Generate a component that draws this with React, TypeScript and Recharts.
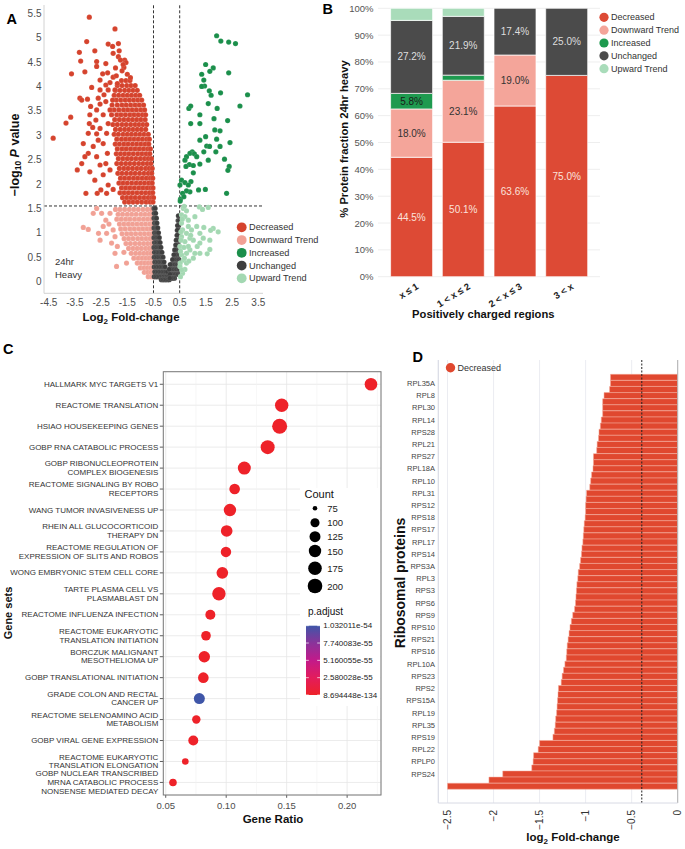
import React from 'react';
import {
  ScatterChart, Scatter, XAxis, YAxis, ReferenceLine,
  BarChart, Bar, CartesianGrid, LabelList,
} from 'recharts';

const FONT = '"Liberation Sans", Arial, Helvetica, sans-serif';

// ---------------- Panel A : volcano plot ----------------
const A_X_TICKS = [-4.5, -3.5, -2.5, -1.5, -0.5, 0.5, 1.5, 2.5, 3.5];
const A_Y_TICKS = [0, 0.5, 1, 1.5, 2, 2.5, 3, 3.5, 4, 4.5, 5, 5.5];
const LFC_CUT = 0.5;
const P_CUT = 1.55;

const decreasedOuter: number[][] = [
  [-2.95, 5.42], [-1.97, 5.18], [-3.05, 4.92], [-2.23, 4.87], [-1.84, 4.88], [-2.06, 4.82], [-2.74, 4.73],
  [-3.33, 4.7], [-1.81, 4.73], [-2.04, 4.68], [-1.84, 4.61], [-1.6, 4.54], [-3.28, 4.52], [-2.67, 4.51],
  [-1.76, 4.54], [-2.32, 4.47], [-1.55, 4.49], [-2.67, 4.41], [-1.63, 4.39], [-3.12, 4.3], [-3.63, 4.26],
  [-2.44, 4.26], [-2.25, 4.28], [-2.04, 4.19], [-2.54, 4.13], [-2.16, 4.08], [-2.32, 4.03], [-2.86, 3.98],
  [-2.54, 3.93], [-2.23, 3.93], [-3.31, 3.76], [-3.24, 3.72], [-3.02, 3.74], [-2.61, 3.76], [-2.39, 3.83],
  [-2.9, 3.59], [-2.67, 3.52], [-2.54, 3.64], [-2.32, 3.69], [-3.66, 3.37], [-2.93, 3.42], [-2.7, 3.31],
  [-2.42, 3.42], [-3.84, 3.25], [-2.95, 3.24], [-2.82, 3.16], [-2.54, 3.14], [-2.99, 3.04], [-2.67, 3.03],
  [-4.33, 2.94], [-3.18, 2.83], [-2.8, 2.77], [-2.61, 2.9], [-2.42, 2.83], [-2.99, 2.63], [-2.67, 2.56],
  [-3.12, 2.56], [-3.24, 2.42], [-2.54, 2.39], [-2.93, 2.25], [-3.41, 2.29], [-2.74, 2.08], [-2.42, 2.19],
  [-2.16, 2.29], [-3.08, 1.81], [-2.65, 1.81], [-2.51, 1.88], [-2.29, 1.81], [-2.04, 1.89], [-2.23, 1.98],
  [-2.32, 2.42], [-2.26, 2.63], [-2.29, 3.04], [-2.23, 3.24], [-2.16, 3.52], [-2.06, 3.72], [-1.97, 3.93],
  [-1.88, 4.06], [-1.7, 4.32], [-1.5, 4.25], [-1.92, 4.22], [-1.38, 4.18], [-1.66, 4.45], [-1.95, 4.38],
];

// rows of the dense core: [ -log10 p, [log2 FC values] ]
const decreasedCoreRows: [number, number[]][] = [
  [4.12, [-1.72, -1.55, -1.4]],
  [4.02, [-1.88, -1.7, -1.52, -1.36, -1.2]],
  [3.92, [-1.95, -1.78, -1.6, -1.44, -1.28, -1.12]],
  [3.82, [-2.0, -1.83, -1.66, -1.5, -1.34, -1.18, -1.03]],
  [3.72, [-1.92, -1.75, -1.58, -1.42, -1.26, -1.1, -0.95]],
  [3.62, [-2.08, -1.88, -1.7, -1.54, -1.37, -1.2, -1.04, -0.88]],
  [3.52, [-2.0, -1.82, -1.64, -1.48, -1.31, -1.15, -0.98, -0.84]],
  [3.42, [-2.1, -1.9, -1.74, -1.57, -1.4, -1.24, -1.08, -0.92, -0.8]],
  [3.32, [-1.98, -1.8, -1.63, -1.46, -1.3, -1.14, -0.98, -0.82]],
  [3.22, [-2.05, -1.88, -1.7, -1.54, -1.37, -1.2, -1.05, -0.9, -0.76]],
  [3.12, [-1.95, -1.77, -1.6, -1.44, -1.28, -1.12, -0.96, -0.8]],
  [3.02, [-2.0, -1.84, -1.66, -1.5, -1.34, -1.18, -1.02, -0.86, -0.7]],
  [2.92, [-1.9, -1.72, -1.56, -1.4, -1.24, -1.08, -0.92, -0.76, -0.66]],
  [2.82, [-1.96, -1.8, -1.63, -1.47, -1.3, -1.14, -0.98, -0.82, -0.68]],
  [2.72, [-1.88, -1.7, -1.54, -1.37, -1.2, -1.04, -0.88, -0.72, -0.62]],
  [2.62, [-1.92, -1.76, -1.6, -1.44, -1.27, -1.1, -0.94, -0.78, -0.64]],
  [2.52, [-1.84, -1.67, -1.5, -1.34, -1.17, -1.0, -0.84, -0.7, -0.58]],
  [2.42, [-1.9, -1.73, -1.56, -1.4, -1.23, -1.06, -0.9, -0.74, -0.6]],
  [2.32, [-1.8, -1.63, -1.47, -1.3, -1.13, -0.97, -0.8, -0.66, -0.55]],
  [2.22, [-1.86, -1.7, -1.53, -1.36, -1.2, -1.03, -0.86, -0.7, -0.57]],
  [2.12, [-1.76, -1.6, -1.43, -1.26, -1.1, -0.93, -0.77, -0.62, -0.53]],
  [2.02, [-1.82, -1.66, -1.5, -1.33, -1.16, -1.0, -0.84, -0.68, -0.55]],
  [1.92, [-1.72, -1.56, -1.4, -1.23, -1.06, -0.9, -0.74, -0.6, -0.52]],
  [1.82, [-1.78, -1.62, -1.46, -1.3, -1.13, -0.96, -0.8, -0.65, -0.53]],
  [1.72, [-1.68, -1.52, -1.36, -1.2, -1.03, -0.86, -0.7, -0.57, -0.5]],
  [1.63, [-1.6, -1.44, -1.28, -1.12, -0.95, -0.78, -0.63, -0.52]],
];

const downwardOuter: number[][] = [
  [-3.18, 1.11], [-2.99, 1.07], [-2.6, 0.99], [-2.54, 0.85], [-2.67, 1.5], [-2.8, 1.4], [-2.48, 1.4],
  [-2.16, 1.4], [-2.32, 1.26], [-2.04, 1.06], [-2.29, 0.99], [-2.1, 0.79], [-1.97, 0.58], [-1.63, 0.6],
  [-1.91, 0.31], [-1.53, 0.38], [-1.88, 0.72], [-1.97, 0.92], [-2.42, 1.13], [-2.2, 1.18],
];

const downwardCoreRows: [number, number[]][] = [
  [1.48, [-1.95, -1.78, -1.6, -1.42, -1.25, -1.08, -0.9, -0.73, -0.58]],
  [1.38, [-1.85, -1.68, -1.5, -1.33, -1.16, -0.98, -0.82, -0.66, -0.54]],
  [1.28, [-1.9, -1.73, -1.56, -1.4, -1.22, -1.05, -0.88, -0.72, -0.57]],
  [1.18, [-1.8, -1.63, -1.46, -1.3, -1.13, -0.96, -0.8, -0.64, -0.53]],
  [1.08, [-1.75, -1.58, -1.4, -1.23, -1.06, -0.9, -0.74, -0.6]],
  [0.98, [-1.7, -1.52, -1.35, -1.18, -1.0, -0.84, -0.68, -0.55]],
  [0.88, [-1.62, -1.45, -1.28, -1.1, -0.94, -0.78, -0.63, -0.52]],
  [0.78, [-1.55, -1.38, -1.2, -1.03, -0.87, -0.72, -0.58]],
  [0.68, [-1.45, -1.28, -1.12, -0.96, -0.8, -0.66, -0.54]],
  [0.58, [-1.35, -1.18, -1.02, -0.87, -0.73, -0.6]],
  [0.48, [-1.25, -1.08, -0.93, -0.79, -0.66, -0.54]],
  [0.38, [-1.12, -0.97, -0.83, -0.7, -0.58]],
  [0.28, [-1.0, -0.86, -0.73, -0.61, -0.52]],
  [0.19, [-0.85, -0.72, -0.6, -0.51]],
  [0.1, [-0.7, -0.58, -0.5]],
];

const unchangedRows: [number, number[]][] = [
  [1.5, [-0.48, -0.44]],
  [1.4, [-0.47, -0.42]],
  [1.3, [-0.48, -0.43, -0.39]],
  [1.2, [-0.46, -0.41, -0.37]],
  [1.1, [-0.48, -0.43, -0.38, -0.34]],
  [1.0, [-0.46, -0.41, -0.36, -0.31]],
  [0.9, [-0.48, -0.43, -0.38, -0.33, -0.28]],
  [0.8, [-0.46, -0.41, -0.36, -0.3, -0.25]],
  [0.7, [-0.48, -0.43, -0.38, -0.32, -0.27, -0.22]],
  [0.6, [-0.46, -0.4, -0.34, -0.29, -0.23, -0.18]],
  [0.5, [-0.47, -0.42, -0.36, -0.3, -0.24, -0.19, -0.14]],
  [0.4, [-0.45, -0.39, -0.33, -0.27, -0.21, -0.15, -0.1]],
  [0.3, [-0.47, -0.41, -0.35, -0.29, -0.23, -0.17, -0.11, -0.06]],
  [0.2, [-0.45, -0.39, -0.33, -0.27, -0.21, -0.15, -0.09, -0.03, 0.03]],
  [0.1, [-0.47, -0.41, -0.35, -0.29, -0.23, -0.17, -0.11, -0.05, 0.01, 0.07]],
  [0.04, [-0.2, -0.14, -0.08, -0.02, 0.04, 0.1]],
  [1.35, [0.45]],
  [1.25, [0.44, 0.48]],
  [1.15, [0.46, 0.42]],
  [1.05, [0.47, 0.41]],
  [0.95, [0.45, 0.4]],
  [0.85, [0.47, 0.42, 0.37]],
  [0.75, [0.45, 0.4, 0.35]],
  [0.65, [0.47, 0.42, 0.36, 0.31]],
  [0.55, [0.45, 0.4, 0.34, 0.28]],
  [0.45, [0.47, 0.41, 0.35, 0.29, 0.23]],
  [0.35, [0.44, 0.38, 0.32, 0.26, 0.2, 0.14]],
  [0.25, [0.46, 0.4, 0.34, 0.28, 0.22, 0.16, 0.1]],
  [0.15, [0.43, 0.37, 0.31, 0.25, 0.19, 0.13]],
  [0.07, [0.3, 0.24, 0.18, 0.12]],
];

const increasedPoints: number[][] = [
  [1.91, 5.04], [2.07, 4.93], [2.37, 4.91], [2.63, 4.88], [1.49, 4.45], [1.78, 4.38], [1.65, 4.31],
  [1.34, 4.25], [2.37, 4.28], [1.42, 4.13], [1.45, 4.01], [1.34, 4.0], [1.63, 3.91], [1.7, 3.82],
  [2.06, 3.87], [3.09, 3.83], [1.59, 3.65], [2.8, 3.6], [0.85, 3.55], [0.92, 3.6], [1.93, 3.55],
  [1.27, 3.42], [1.81, 3.34], [2.33, 3.3], [0.92, 3.24], [1.27, 3.24], [2.04, 3.09], [1.49, 2.97],
  [1.91, 2.92], [2.42, 2.85], [1.53, 2.78], [1.64, 2.77], [1.42, 2.66], [0.98, 2.66], [0.89, 2.63],
  [1.06, 2.62], [0.76, 2.56], [0.7, 2.49], [2.21, 2.51], [1.59, 2.49], [0.87, 2.4], [1.02, 2.38],
  [1.27, 2.41], [0.74, 2.36], [2.39, 2.36], [2.34, 2.28], [1.02, 2.23], [0.57, 2.08], [0.7, 2.03],
  [0.93, 2.05], [0.83, 1.98], [0.51, 1.98], [1.48, 1.89], [1.22, 1.88], [0.89, 1.84], [0.76, 1.86],
  [0.61, 1.81], [2.29, 1.81], [0.53, 1.69], [0.52, 1.65], [0.66, 1.74], [1.15, 2.56], [1.88, 2.66],
  [2.04, 2.77], [1.27, 2.9], [1.84, 3.11],
];

const upwardPoints: number[][] = [
  [0.64, 1.5], [0.76, 1.45], [1.25, 1.53], [1.59, 1.52], [0.57, 1.37], [0.7, 1.33], [1.78, 1.09],
  [1.68, 1.05], [1.97, 1.02], [1.42, 1.11], [1.27, 0.99], [0.95, 1.06], [0.76, 0.99], [0.57, 0.92],
  [1.02, 0.85], [1.17, 0.72], [1.27, 0.79], [1.65, 0.66], [1.55, 0.57], [0.57, 0.55], [0.64, 0.44],
  [0.52, 0.38], [0.76, 0.58], [0.89, 0.65], [0.51, 0.31], [0.7, 0.25], [1.08, 0.58], [0.61, 0.17],
  [0.53, 0.1], [0.83, 1.13], [1.15, 1.13], [0.61, 1.06], [0.89, 0.89], [0.7, 0.82], [1.4, 0.89],
  [0.51, 0.72], [0.83, 0.72], [1.02, 0.48], [0.76, 0.38], [1.27, 0.58], [0.57, 1.2], [0.83, 1.26],
  [1.08, 1.33], [0.67, 1.54], [1.37, 1.48], [1.65, 0.85], [0.55, 0.85], [0.6, 1.28], [0.53, 0.62],
  [0.66, 0.7], [0.92, 0.95], [0.58, 0.24], [0.68, 0.48], [0.85, 0.42], [0.55, 1.02],
];

const A_COLORS = {
  Decreased: '#d5432d',
  'Downward Trend': '#f1a195',
  Increased: '#1b8f4b',
  Unchanged: '#3e3e3e',
  'Upward Trend': '#a3d8b2',
};

const pairs = (arr: number[][]) => arr.map(([x, y]) => ({ x, y }));
const rows = (arr: [number, number[]][]) => arr.flatMap(([y, xs]) => xs.map((x) => ({ x, y })));

// ---------------- Panel B : stacked bars ----------------
const chargeCategories = ['x ≤ 1', '1 < x ≤ 2', '2 < x ≤ 3', '3 < x'];
const decreasedPct = [44.5, 50.1, 63.6, 75.0];
const downwardPct = [18.0, 23.1, 19.0, 0];
const increasedPct = [5.8, 1.9, 0, 0];
const unchangedPct = [27.2, 21.9, 17.4, 25.0];
const upwardPct = [4.5, 3.0, 0, 0];
const B_TICKS = [0, 10, 20, 30, 40, 50, 60, 70, 80, 90, 100];
const B_COLORS = {
  Decreased: '#dd4a35',
  'Downward Trend': '#f4a59a',
  Increased: '#1e9a4f',
  Unchanged: '#4b4b4b',
  'Upward Trend': '#a9dcba',
};

// ---------------- Panel C : enrichment dot plot ----------------
const geneSetLabels: string[][] = [
  ['HALLMARK MYC TARGETS V1'],
  ['REACTOME TRANSLATION'],
  ['HSIAO HOUSEKEEPING GENES'],
  ['GOBP RNA CATABOLIC PROCESS'],
  ['GOBP RIBONUCLEOPROTEIN', 'COMPLEX BIOGENESIS'],
  ['REACTOME SIGNALING BY ROBO', 'RECEPTORS'],
  ['WANG TUMOR INVASIVENESS UP'],
  ['RHEIN ALL GLUCOCORTICOID', 'THERAPY DN'],
  ['REACTOME REGULATION OF', 'EXPRESSION OF SLITS AND ROBOS'],
  ['WONG EMBRYONIC STEM CELL CORE'],
  ['TARTE PLASMA CELL VS', 'PLASMABLAST DN'],
  ['REACTOME INFLUENZA INFECTION'],
  ['REACTOME EUKARYOTIC', 'TRANSLATION INITIATION'],
  ['BORCZUK MALIGNANT', 'MESOTHELIOMA UP'],
  ['GOBP TRANSLATIONAL INITIATION'],
  ['GRADE COLON AND RECTAL', 'CANCER UP'],
  ['REACTOME SELENOAMINO ACID', 'METABOLISM'],
  ['GOBP VIRAL GENE EXPRESSION'],
  ['REACTOME EUKARYOTIC', 'TRANSLATION ELONGATION'],
  ['GOBP NUCLEAR TRANSCRIBED', 'MRNA CATABOLIC PROCESS', 'NONSENSE MEDIATED DECAY'],
];
const geneRatios = [0.2197, 0.1459, 0.1442, 0.1343, 0.115, 0.107, 0.1031, 0.1004, 0.0998, 0.0968,
  0.094, 0.0869, 0.0833, 0.0819, 0.0811, 0.0778, 0.0753, 0.0728, 0.0662, 0.056];
const geneCounts = [154, 171, 209, 184, 162, 120, 150, 136, 117, 136, 171, 111, 106, 132, 120, 126, 93, 111, 80, 86];
const geneP = [8.694448e-134, 1.2e-110, 3.5e-105, 2.1e-98, 4.4e-80, 6.0e-85, 1.5e-70, 2.2e-68, 3.1e-80,
  1.1e-66, 2.6e-64, 4.5e-72, 7.7e-66, 3.0e-60, 1.8e-62, 1.032011e-54, 5.2e-63, 2.4e-58, 6.6e-61, 9.1e-60];
const C_X_TICKS = [0.05, 0.1, 0.15, 0.2];
const C_X_MINOR = [0.075, 0.125, 0.175, 0.225];
const COUNT_BREAKS = [75, 100, 125, 150, 175, 200];
const P_BREAK_LABELS = ['1.032011e-54', '7.740083e-55', '5.160055e-55', '2.580028e-55', '8.694448e-134'];
const P_MIN = 8.694448e-134;
const P_MAX = 1.032011e-54;
const P_STOPS: [number, string][] = [
  [0, '#ee2229'], [0.25, '#e31c5c'], [0.5, '#c21a8a'], [0.75, '#8a339a'], [1, '#3f56a8'],
];

// ---------------- Panel D : ribosomal proteins ----------------
const riboLabels = [
  '', 'RPL35A', '', 'RPL8', '', 'RPL30', '', 'RPL14', '', 'RPS28', '', 'RPL21', '', 'RPS27', '', 'RPL18A',
  '', 'RPL10', '', 'RPL31', '', 'RPS12', '', 'RPS18', '', 'RPS17', '', 'RPL17', '', 'RPS14', '', 'RPS3A',
  '', 'RPL3', '', 'RPS3', '', 'RPS6', '', 'RPS9', '', 'RPS10', '', 'RPS21', '', 'RPS16', '', 'RPL10A',
  '', 'RPS23', '', 'RPS2', '', 'RPS15A', '', 'RPL19', '', 'RPL35', '', 'RPS19', '', 'RPL22', '', 'RPLP0',
  '', 'RPS24', '', '',
];
const riboLog2FC = [
  -0.73, -0.73, -0.74, -0.8, -0.815, -0.815, -0.815, -0.83, -0.84, -0.855,
  -0.86, -0.875, -0.88, -0.915, -0.915, -0.92, -0.935, -0.945, -0.955, -0.99,
  -0.995, -1.0, -1.0, -1.005, -1.015, -1.02, -1.025, -1.03, -1.04, -1.045,
  -1.055, -1.065, -1.08, -1.085, -1.095, -1.1, -1.105, -1.11, -1.12, -1.14,
  -1.155, -1.17, -1.18, -1.19, -1.2, -1.205, -1.21, -1.225, -1.24, -1.255,
  -1.265, -1.295, -1.3, -1.305, -1.31, -1.315, -1.325, -1.33, -1.34, -1.355,
  -1.5, -1.515, -1.565, -1.57, -1.585, -1.9, -2.05, -2.5,
];
const D_X_TICKS = [-2.5, -2, -1.5, -1, -0.5, 0];
const D_THRESHOLD = -0.39;
const D_COLOR = '#e0482f';

// ---------------- helpers ----------------
function hexToRgb(h: string) {
  const n = parseInt(h.slice(1), 16);
  return [(n >> 16) & 255, (n >> 8) & 255, n & 255];
}
function padjColor(p: number) {
  const t = Math.max(0, Math.min(1, (p - P_MIN) / (P_MAX - P_MIN)));
  for (let i = 1; i < P_STOPS.length; i++) {
    const [t1, c1] = P_STOPS[i];
    const [t0, c0] = P_STOPS[i - 1];
    if (t <= t1) {
      const f = (t - t0) / (t1 - t0);
      const a = hexToRgb(c0);
      const b = hexToRgb(c1);
      const m = a.map((v, k) => Math.round(v + (b[k] - v) * f));
      return `rgb(${m[0]},${m[1]},${m[2]})`;
    }
  }
  return P_STOPS[P_STOPS.length - 1][1];
}
function countRadius(c: number) {
  return 2.3 + 5.6 * Math.sqrt(Math.max(0, c - 75) / 155);
}
const volcanoDot = (fill: string) => (p: any) => (
  <circle cx={p.cx} cy={p.cy} r={2.6} fill={fill} stroke="#ffffff" strokeOpacity={0.25} strokeWidth={0.45} />
);

// ---------------- tick renderers ----------------
const AXTick = (p: any) => (
  <text x={p.x} y={302} textAnchor="middle" dominantBaseline="central" fontSize={10} fill="#4d4d4d" fontFamily={FONT}>
    {String(p.payload.value)}
  </text>
);
const AYTick = (p: any) => (
  <text x={41.5} y={p.y} textAnchor="end" dominantBaseline="central" fontSize={10} fill="#4d4d4d" fontFamily={FONT}>
    {String(p.payload.value)}
  </text>
);
const BYTick = (p: any) => (
  <text x={73.5} y={p.y} textAnchor="end" dominantBaseline="central" fontSize={9.5} fill="#555" fontFamily={FONT}>
    {`${p.payload.value}%`}
  </text>
);
const BXTick = (p: any) => {
  const x = p.x + 4;
  const y = 282;
  return (
    <text x={x} y={y} transform={`rotate(-32 ${x} ${y})`} textAnchor="end" dominantBaseline="hanging"
      fontSize={9.5} fontWeight="bold" fill="#222" fontFamily={FONT}>
      {p.payload.value}
    </text>
  );
};
const CYTick = (p: any) => {
  const idx = 19 - p.payload.value;
  const lines = geneSetLabels[idx] || [];
  const lh = 8.6;
  const y0 = p.y - ((lines.length - 1) * lh) / 2;
  return (
    <g>
      <line x1={159.8} x2={163.3} y1={p.y} y2={p.y} stroke="#333" strokeWidth={0.8} />
      {lines.map((t, k) => (
        <text key={k} x={158.3} y={y0 + k * lh} textAnchor="end" dominantBaseline="central" fontSize={8}
          fill="#333" fontFamily={FONT}>{t}</text>
      ))}
    </g>
  );
};
const CXTick = (p: any) => (
  <g>
    <line x1={p.x} x2={p.x} y1={455} y2={457.8} stroke="#333" strokeWidth={0.8} />
    <text x={p.x} y={465} textAnchor="middle" dominantBaseline="central" fontSize={9.5} fill="#4d4d4d" fontFamily={FONT}>
      {Number(p.payload.value).toFixed(2)}
    </text>
  </g>
);
const DYTick = (p: any) => {
  const idx = Number(String(p.payload.value).slice(1));
  return (
    <text x={35} y={p.y} textAnchor="end" dominantBaseline="central" fontSize={7.5} fill="#444" fontFamily={FONT}>
      {riboLabels[idx]}
    </text>
  );
};
const DXTick = (p: any) => {
  const v = Number(p.payload.value);
  const s = v < 0 ? `\u2212${Math.abs(v)}` : '0';
  return (
    <text x={p.x} y={470} transform={`rotate(-90 ${p.x} 470)`} textAnchor="end" dominantBaseline="central"
      fontSize={10} fill="#333" fontFamily={FONT}>{s}</text>
  );
};

const Bubble = (p: any) => (
  <circle cx={p.cx} cy={p.cy} r={countRadius(p.payload.count)} fill={padjColor(p.payload.p)} />
);

const pctLabel = (v: any) => (Number(v) >= 5 ? `${Number(v).toFixed(1)}%` : '');

export default function App() {
  const aDecreased = [...rows(decreasedCoreRows), ...pairs(decreasedOuter)];
  const aDownward = [...rows(downwardCoreRows), ...pairs(downwardOuter)];
  const aUnchanged = rows(unchangedRows);
  const aIncreased = pairs(increasedPoints);
  const aUpward = pairs(upwardPoints);

  const bData = chargeCategories.map((c, i) => ({
    cat: c,
    Decreased: decreasedPct[i],
    Downward: downwardPct[i],
    Increased: increasedPct[i],
    Unchanged: unchangedPct[i],
    Upward: upwardPct[i],
  }));

  const cData = geneSetLabels.map((_, i) => ({
    x: geneRatios[i], y: 19 - i, count: geneCounts[i], p: geneP[i],
  }));
  const cYTicks = geneSetLabels.map((_, i) => i);

  const dData = riboLog2FC.map((v, i) => ({ id: `r${i}`, value: v }));

  const legendA = Object.entries(A_COLORS);
  const legendB = Object.entries(B_COLORS);

  return (
    <div style={{ position: 'absolute', left: 0, top: 0, width: 685, height: 849, background: '#fff', overflow: 'hidden', fontFamily: FONT }}>
      {/* Panel A */}
      <div style={{ position: 'absolute', left: 0, top: 0 }}>
        <ScatterChart width={270} height={320} margin={{ top: 5, right: 7, bottom: 0, left: 0 }}>
          <XAxis type="number" dataKey="x" domain={[-4.68, 3.68]} ticks={A_X_TICKS} interval={0}
            axisLine={{ stroke: '#d2d2d2' }} tickLine={false} height={26.7} tick={AXTick} allowDataOverflow />
          <YAxis type="number" dataKey="y" domain={[-0.24, 5.67]} ticks={A_Y_TICKS} interval={0}
            axisLine={{ stroke: '#d2d2d2' }} tickLine={false} width={44} tick={AYTick} allowDataOverflow />
          <Scatter data={aDownward} shape={volcanoDot(A_COLORS['Downward Trend'])} isAnimationActive={false} />
          <Scatter data={aDecreased} shape={volcanoDot(A_COLORS.Decreased)} isAnimationActive={false} />
          <Scatter data={aUnchanged} shape={volcanoDot(A_COLORS.Unchanged)} isAnimationActive={false} />
          <Scatter data={aUpward} shape={volcanoDot(A_COLORS['Upward Trend'])} isAnimationActive={false} />
          <Scatter data={aIncreased} shape={volcanoDot(A_COLORS.Increased)} isAnimationActive={false} />
          <ReferenceLine x={-LFC_CUT} stroke="#333" strokeDasharray="3 2" strokeWidth={1} />
          <ReferenceLine x={LFC_CUT} stroke="#333" strokeDasharray="3 2" strokeWidth={1} />
          <ReferenceLine y={P_CUT} stroke="#333" strokeDasharray="3 2" strokeWidth={1} />
        </ScatterChart>
      </div>

      {/* Panel B */}
      <div style={{ position: 'absolute', left: 300, top: 0 }}>
        <BarChart width={310} height={320} data={bData} margin={{ top: 8.3, right: 10, bottom: 0, left: 0 }}>
          <CartesianGrid vertical={false} stroke="#eeeeee" />
          <XAxis dataKey="cat" type="category" padding={{ left: 7.6, right: 7.6 }} axisLine={false} tickLine={false}
            height={43.3} interval={0} tick={BXTick} />
          <YAxis type="number" domain={[0, 100]} ticks={B_TICKS} interval={0} width={78} axisLine={false}
            tickLine={false} tick={BYTick} />
          <Bar dataKey="Decreased" stackId="s" fill={B_COLORS.Decreased} stroke="#fff" strokeWidth={0.7} barSize={42} isAnimationActive={false}>
            <LabelList dataKey="Decreased" position="center" formatter={pctLabel} fill="#fbe2dc" fontSize={10} fontFamily={FONT} />
          </Bar>
          <Bar dataKey="Downward" stackId="s" fill={B_COLORS['Downward Trend']} stroke="#fff" strokeWidth={0.7} barSize={42} isAnimationActive={false}>
            <LabelList dataKey="Downward" position="center" formatter={pctLabel} fill="#333" fontSize={10} fontFamily={FONT} />
          </Bar>
          <Bar dataKey="Increased" stackId="s" fill={B_COLORS.Increased} stroke="#fff" strokeWidth={0.7} barSize={42} isAnimationActive={false}>
            <LabelList dataKey="Increased" position="center" formatter={pctLabel} fill="#1a1a1a" fontSize={10} fontFamily={FONT} />
          </Bar>
          <Bar dataKey="Unchanged" stackId="s" fill={B_COLORS.Unchanged} stroke="#fff" strokeWidth={0.7} barSize={42} isAnimationActive={false}>
            <LabelList dataKey="Unchanged" position="center" formatter={pctLabel} fill="#dedede" fontSize={10} fontFamily={FONT} />
          </Bar>
          <Bar dataKey="Upward" stackId="s" fill={B_COLORS['Upward Trend']} stroke="#fff" strokeWidth={0.7} barSize={42} isAnimationActive={false}>
            <LabelList dataKey="Upward" position="center" formatter={pctLabel} fill="#333" fontSize={10} fontFamily={FONT} />
          </Bar>
        </BarChart>
      </div>

      {/* Panel C */}
      <div style={{ position: 'absolute', left: 0, top: 340 }}>
        <ScatterChart width={400} height={500} margin={{ top: 31.7, right: 19, bottom: 0, left: 0 }}>
          <CartesianGrid stroke="#e6e6e6" strokeWidth={0.8} />
          {C_X_MINOR.map((v) => (
            <ReferenceLine key={v} x={v} stroke="#f2f2f2" strokeWidth={0.6} />
          ))}
          <XAxis type="number" dataKey="x" domain={[0.048, 0.228]} ticks={C_X_TICKS} interval={0}
            axisLine={false} tickLine={false} height={45} tick={CXTick} allowDataOverflow />
          <YAxis type="number" dataKey="y" domain={[-0.6, 19.6]} ticks={cYTicks} interval={0}
            axisLine={false} tickLine={false} width={163.3} tick={CYTick} allowDataOverflow />
          <Scatter data={cData} shape={Bubble} isAnimationActive={false} />
        </ScatterChart>
      </div>

      {/* Panel D */}
      <div style={{ position: 'absolute', left: 400, top: 340 }}>
        <BarChart width={285} height={509} data={dData} layout="vertical" barCategoryGap={0}
          margin={{ top: 20, right: 7.3, bottom: 0, left: 0 }}>
          <CartesianGrid horizontal={false} stroke="#e6e7ee" strokeWidth={0.8} />
          <XAxis type="number" domain={[-2.6, 0]} ticks={D_X_TICKS} interval={0} height={46}
            axisLine={{ stroke: '#d8dae4' }} tickLine={false} tick={DXTick} allowDataOverflow />
          <YAxis type="category" dataKey="id" width={38.3} interval={0} padding={{ top: 14.3, bottom: 13.7 }}
            axisLine={{ stroke: '#d8dae4' }} tickLine={false} tick={DYTick} />
          <Bar dataKey="value" fill={D_COLOR} stroke="#f4ab9b" strokeWidth={0.5} isAnimationActive={false} />
          <ReferenceLine x={0} stroke="#b0b0b0" strokeWidth={1} />
          <ReferenceLine x={D_THRESHOLD} stroke="#222" strokeDasharray="2 1.5" strokeWidth={1} />
        </BarChart>
      </div>

      {/* annotations */}
      <svg width={685} height={849} style={{ position: 'absolute', left: 0, top: 0, pointerEvents: 'none' }} fontFamily={FONT}>
        <defs>
          <linearGradient id="padjGrad" x1="0" y1="1" x2="0" y2="0">
            {P_STOPS.map(([t, c]) => (
              <stop key={t} offset={t} stopColor={c} />
            ))}
          </linearGradient>
        </defs>

        {/* panel letters */}
        <text x={6.5} y={24} fontSize={14.5} fontWeight="bold" fill="#000">A</text>
        <text x={322.5} y={13.5} fontSize={14.5} fontWeight="bold" fill="#000">B</text>
        <text x={3} y={354} fontSize={14.5} fontWeight="bold" fill="#000">C</text>
        <text x={412.5} y={362} fontSize={14.5} fontWeight="bold" fill="#000">D</text>

        {/* Panel A titles */}
        <text x={15} y={155} transform="rotate(-90 15 155)" textAnchor="middle" dominantBaseline="central"
          fontSize={12.5} fontWeight="bold" fill="#111">
          {'\u2212log'}<tspan fontSize={8.5} dy={3}>10</tspan><tspan dy={-3}> </tspan><tspan fontStyle="italic">P</tspan> value
        </text>
        <text x={131} y={321} textAnchor="middle" fontSize={11.5} fontWeight="bold" fill="#111">
          Log<tspan fontSize={8} dy={3}>2</tspan><tspan dy={-3}> Fold-change</tspan>
        </text>
        <text x={55} y={264.5} fontSize={9.5} fill="#333">24hr</text>
        <text x={55} y={277.5} fontSize={9.5} fill="#333">Heavy</text>
        {legendA.map(([name, col], i) => (
          <g key={name}>
            <circle cx={241.7} cy={227.3 + i * 12.75} r={4.9} fill={col} />
            <text x={249} y={227.3 + i * 12.75} dominantBaseline="central" fontSize={9.2} fill="#333">{name}</text>
          </g>
        ))}

        {/* Panel B titles and legend */}
        <text x={344} y={139} transform="rotate(-90 344 139)" textAnchor="middle" dominantBaseline="central"
          fontSize={11.2} fontWeight="bold" fill="#111">% Protein fraction 24hr heavy</text>
        <text x={483.3} y={318} textAnchor="middle" fontSize={11.2} fontWeight="bold" fill="#111">Positively charged regions</text>
        {legendB.map(([name, col], i) => (
          <g key={name}>
            <circle cx={604} cy={17.3 + i * 12.85} r={4.6} fill={col} />
            <text x={611} y={17.3 + i * 12.85} dominantBaseline="central" fontSize={9} fill="#333">{name}</text>
          </g>
        ))}

        {/* Panel C frame, titles, legends */}
        <rect x={300} y={488} width={80.3} height={218} fill="#fff" />
        <rect x={163.3} y={371.7} width={217.7} height={423.3} fill="none" stroke="#7a7a7a" strokeWidth={1} />
        <text x={8} y={613} transform="rotate(-90 8 613)" textAnchor="middle" dominantBaseline="central"
          fontSize={11} fontWeight="bold" fill="#111">Gene sets</text>
        <text x={273} y={823} textAnchor="middle" fontSize={11.5} fontWeight="bold" fill="#111">Gene Ratio</text>
        <text x={304.5} y={494} dominantBaseline="central" fontSize={11} fill="#111">Count</text>
        {COUNT_BREAKS.map((c, i) => {
          const ys = [508.3, 522.7, 536.7, 551, 568.3, 586];
          return (
            <g key={c}>
              <circle cx={315} cy={ys[i]} r={countRadius(c)} fill="#000" />
              <text x={327.3} y={ys[i]} dominantBaseline="central" fontSize={9.5} fill="#222">{c}</text>
            </g>
          );
        })}
        <text x={308} y={611} dominantBaseline="central" fontSize={10} fill="#111">p.adjust</text>
        <rect x={306} y={625.7} width={14} height={69.3} fill="url(#padjGrad)" />
        {P_BREAK_LABELS.map((lab, i) => {
          const y = 625.7 + (i * 69.3) / 4;
          return (
            <g key={lab}>
              <line x1={306} x2={308.8} y1={y} y2={y} stroke="#fff" strokeWidth={0.7} />
              <line x1={317.2} x2={320} y1={y} y2={y} stroke="#fff" strokeWidth={0.7} />
              <text x={323.3} y={y} dominantBaseline="central" fontSize={8} fill="#222">{lab}</text>
            </g>
          );
        })}

        {/* Panel D titles and legend */}
        <text x={400} y={583} transform="rotate(-90 400 583)" textAnchor="middle" dominantBaseline="central"
          fontSize={14} fontWeight="bold" fill="#111">Ribosomal proteins</text>
        <text x={573} y={841} textAnchor="middle" fontSize={11.5} fontWeight="bold" fill="#111">
          log<tspan fontSize={8} dy={3}>2</tspan><tspan dy={-3}> Fold-change</tspan>
        </text>
        <circle cx={450.5} cy={367.7} r={4.7} fill={D_COLOR} />
        <text x={457.5} y={367.7} dominantBaseline="central" fontSize={9} fill="#333">Decreased</text>
      </svg>
    </div>
  );
}
